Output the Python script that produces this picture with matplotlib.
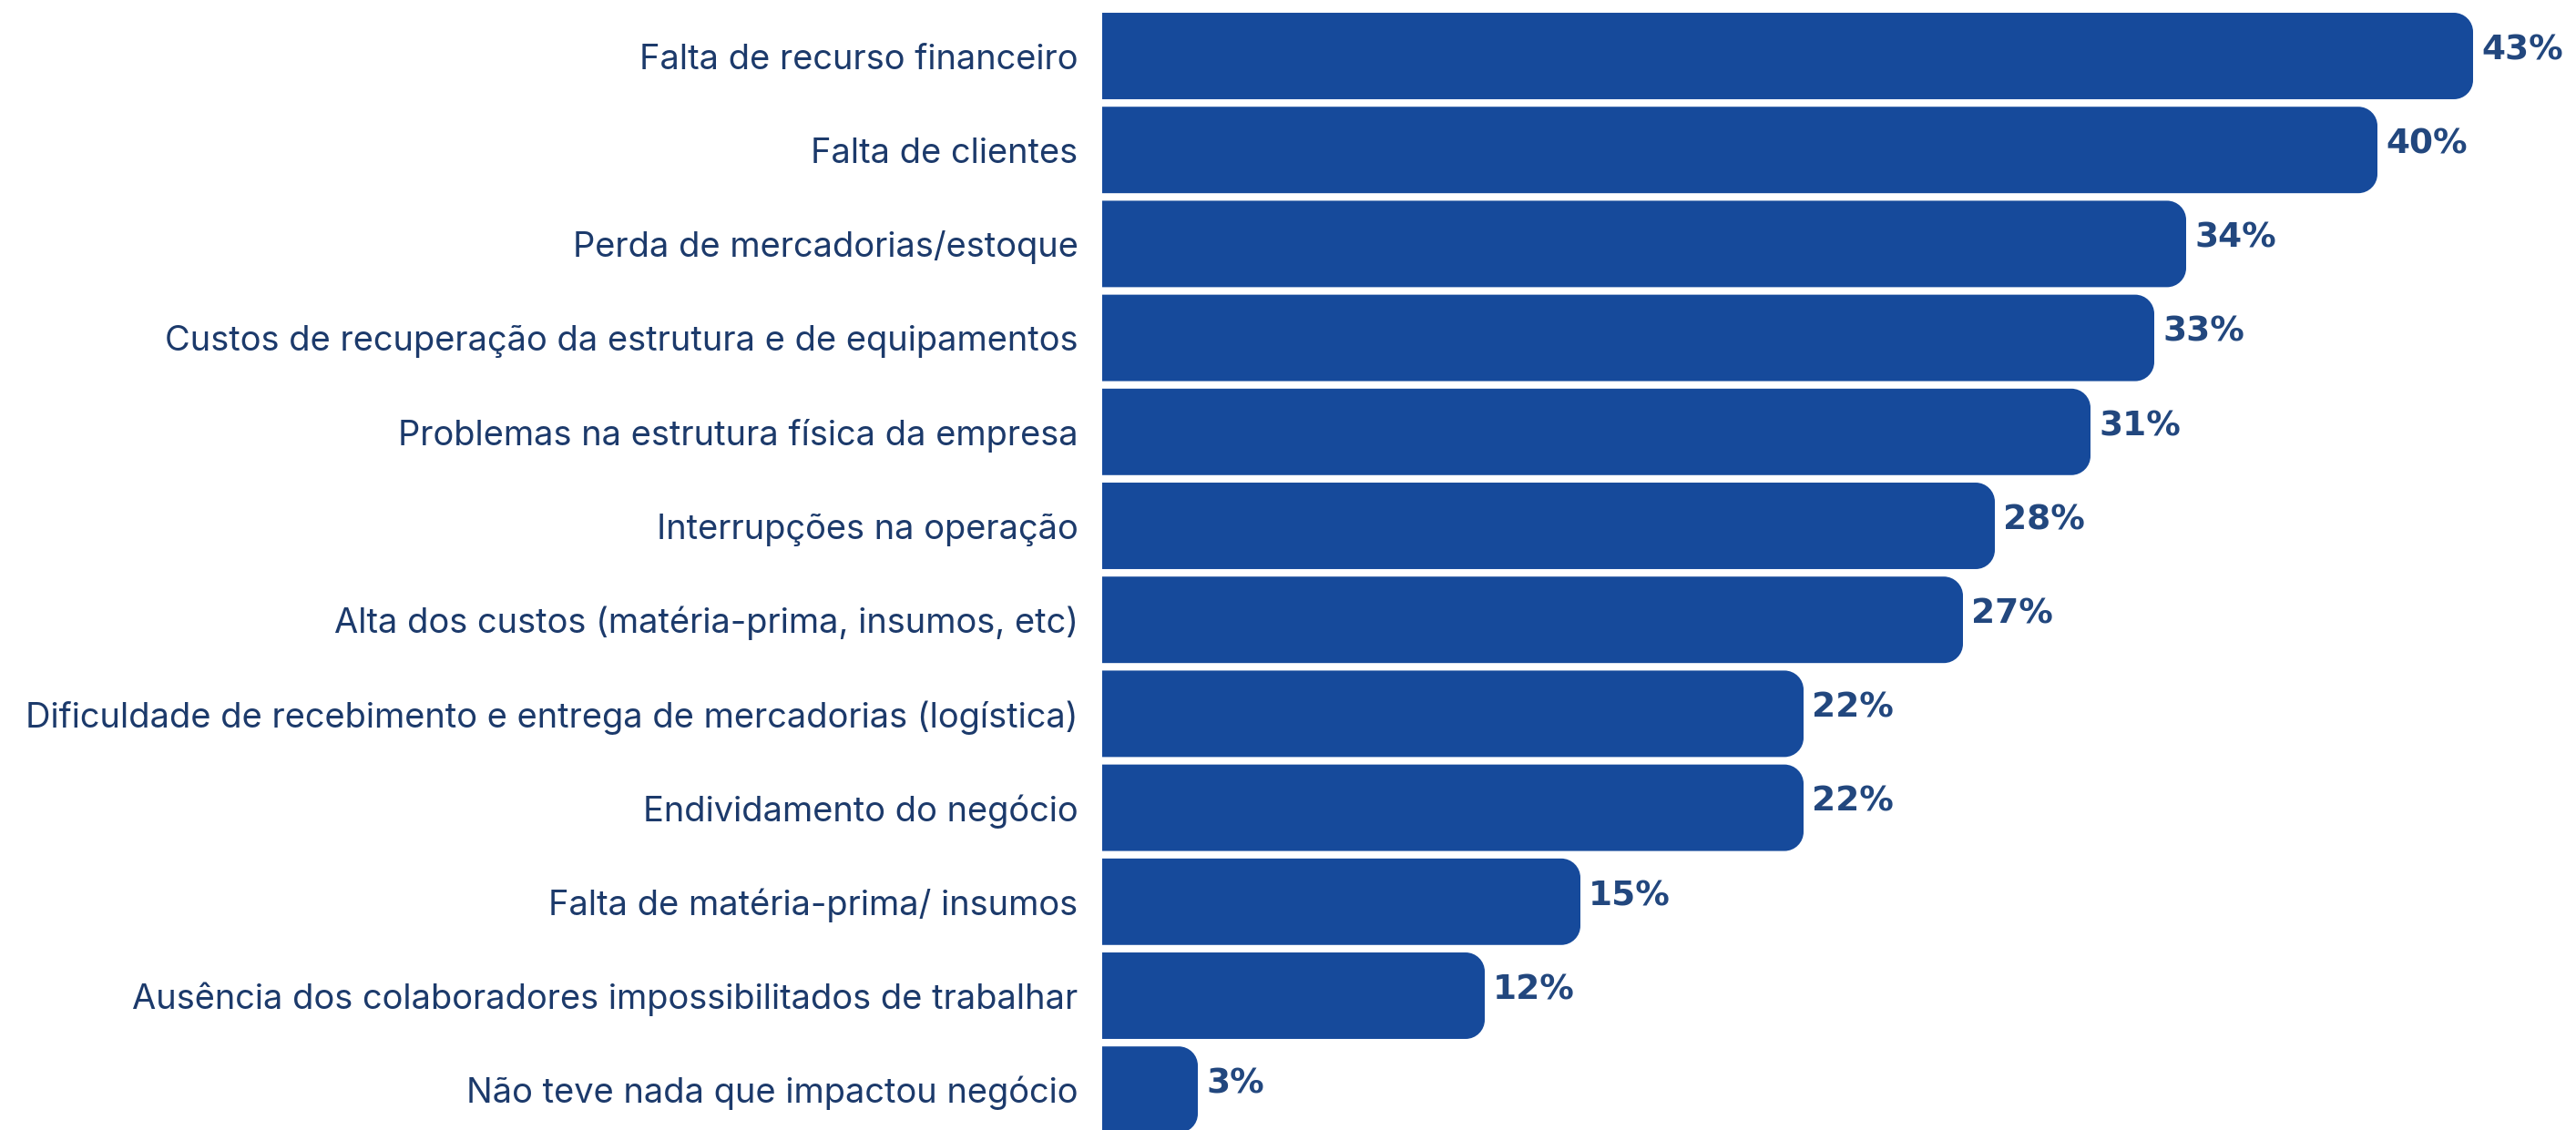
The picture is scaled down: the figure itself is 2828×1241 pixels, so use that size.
import numpy as np
from matplotlib import pyplot as plt
from matplotlib.patches import PathPatch
from matplotlib.path import Path

# Impactos relatados pelos negócios (% das respostas)
categorias = [
    "Falta de recurso financeiro",
    "Falta de clientes",
    "Perda de mercadorias/estoque",
    "Custos de recuperação da estrutura e de equipamentos",
    "Problemas na estrutura física da empresa",
    "Interrupções na operação",
    "Alta dos custos (matéria-prima, insumos, etc)",
    "Dificuldade de recebimento e entrega de mercadorias (logística)",
    "Endividamento do negócio",
    "Falta de matéria-prima/ insumos",
    "Ausência dos colaboradores impossibilitados de trabalhar",
    "Não teve nada que impactou negócio",
]
percentuais = [43, 40, 34, 33, 31, 28, 27, 22, 22, 15, 12, 3]

BAR_COLOR = '#164a9b'
LABEL_COLOR = '#1c3a6b'
VALUE_COLOR = '#22477e'

W, H, DPI = 2828, 1241, 100
x0_px = 1210          # left edge of the bars
px_per_unit = 35.0    # horizontal scale
pitch_px = 103.2      # distance between bar centres
first_px = 61.5       # centre of the first bar from top
bar_h = 0.92
radius_px = 21
K = 0.5523            # bezier constant for a quarter ellipse


def right_rounded_bar(x, y, w, h, rx, ry):
    """Bar path with a square left side and rounded right corners."""
    rx = min(rx, w / 2)
    verts = [
        (x, y),
        (x + w - rx, y),
        (x + w - rx + K * rx, y), (x + w, y + ry - K * ry), (x + w, y + ry),
        (x + w, y + h - ry),
        (x + w, y + h - ry + K * ry), (x + w - rx + K * rx, y + h), (x + w - rx, y + h),
        (x, y + h),
        (x, y),
    ]
    codes = [Path.MOVETO, Path.LINETO,
             Path.CURVE4, Path.CURVE4, Path.CURVE4,
             Path.LINETO,
             Path.CURVE4, Path.CURVE4, Path.CURVE4,
             Path.LINETO, Path.CLOSEPOLY]
    return Path(verts, codes)


fig = plt.figure(figsize=(W / DPI, H / DPI), dpi=DPI)
ax = fig.add_axes([x0_px / W, 0, 1 - x0_px / W, 1])
ax.set_xlim(0, (W - x0_px) / px_per_unit)
ax.set_ylim((H - first_px) / pitch_px, -first_px / pitch_px)

rx = radius_px / px_per_unit
ry = radius_px / pitch_px
for i, v in enumerate(percentuais):
    path = right_rounded_bar(0, i - bar_h / 2, v, bar_h, rx, ry)
    ax.add_patch(PathPatch(path, fc=BAR_COLOR, ec='none'))
    ax.text(v + 9 / px_per_unit, i - 0.06, f"{v}%", ha='left', va='center',
            fontsize=27, fontweight='bold', color=VALUE_COLOR, family='DejaVu Sans')

ax.set_yticks(range(len(categorias)))
ax.set_yticklabels(categorias, fontsize=27.4, color=LABEL_COLOR, family='Inter')
ax.tick_params(axis='y', length=0, pad=19)
ax.set_xticks([])
for s in ax.spines.values():
    s.set_visible(False)

fig.savefig('out.png', dpi=DPI)
